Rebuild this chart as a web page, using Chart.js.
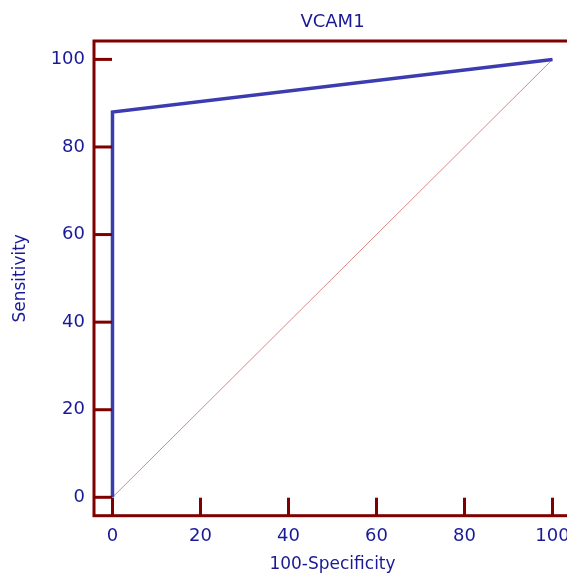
<!DOCTYPE html>
<html><head><meta charset="utf-8">
<script src="https://cdn.jsdelivr.net/npm/chart.js@4/dist/chart.umd.min.js"></script>
<style>html,body{margin:0;padding:0;overflow:hidden;background:#fff}#wrap{width:571px;height:574px}</style>
</head><body><div id="wrap"><canvas id="c" width="571" height="574"></canvas></div>
<script>
const chartTitle = "VCAM1";
const xTitle = "100-Specificity";
const yTitle = "Sensitivity";
const rocX = [0, 0, 100];
const rocY = [0, 88, 100];
const diagX = [0, 100];
const diagY = [0, 100];
const tickValues = [0, 20, 40, 60, 80, 100];

const MAROON = "#800000";
const LABEL = "#1a1a96";
const FONT = "'DejaVu Sans', Verdana, sans-serif";

const framePlugin = {
  id: "frame",
  afterDatasetsDraw(chart) {
    const {ctx, chartArea: a, scales} = chart;
    ctx.save();
    ctx.strokeStyle = MAROON;
    ctx.lineWidth = 3;
    ctx.lineCap = "butt";
    ctx.strokeRect(a.left, a.top, a.right - a.left, a.bottom - a.top);
    const tl = 18;
    tickValues.forEach(v => {
      const y = scales.y.getPixelForValue(v);
      ctx.beginPath(); ctx.moveTo(a.left, y); ctx.lineTo(a.left + tl, y); ctx.stroke();
      const x = scales.x.getPixelForValue(v);
      ctx.beginPath(); ctx.moveTo(x, a.bottom); ctx.lineTo(x, a.bottom - tl); ctx.stroke();
    });
    ctx.fillStyle = LABEL;
    ctx.font = "18px " + FONT;
    ctx.textAlign = "center";
    ctx.textBaseline = "middle";
    ctx.fillText(chartTitle, (a.left + a.right) / 2, 22);
    ctx.restore();
  }
};

new Chart(document.getElementById("c"), {
  type: "scatter",
  data: {
    datasets: [
      {
        data: diagX.map((x, i) => ({x, y: diagY[i]})),
        showLine: true, borderColor: "#d68a8a", borderWidth: 1,
        pointRadius: 0, order: 2
      },
      {
        data: rocX.map((x, i) => ({x, y: rocY[i]})),
        showLine: true, borderColor: "#3c3cb0", borderWidth: 3.5,
        pointRadius: 0, order: 1
      }
    ]
  },
  options: {
    responsive: false,
    animation: false,
    layout: {padding: {top: 41, left: 0, right: 0, bottom: 0}},
    plugins: {legend: {display: false}, tooltip: {enabled: false}, title: {display: false}},
    scales: {
      x: {
        type: "linear", min: -4.2, max: 104.2,
        afterBuildTicks: s => { s.ticks = tickValues.map(v => ({value: v})); },
        afterFit: s => { s.height = 58.3; s.paddingLeft = 0; s.paddingRight = 0; },
        grid: {display: false, drawTicks: false},
        border: {display: false},
        ticks: {color: LABEL, font: {family: FONT, size: 18}, padding: 10, maxRotation: 0},
        title: {display: true, text: xTitle, color: LABEL, font: {family: FONT, size: 17, lineHeight: 1.1}, padding: {top: 0, bottom: 0}}
      },
      y: {
        type: "linear", min: -4.2, max: 104.2,
        afterBuildTicks: s => { s.ticks = tickValues.map(v => ({value: v})); },
        afterFit: s => { s.width = 94; s.paddingTop = 0; s.paddingBottom = 0; },
        grid: {display: false, drawTicks: false},
        border: {display: false},
        ticks: {color: LABEL, font: {family: FONT, size: 18}, padding: 9},
        title: {display: true, text: yTitle, color: LABEL, font: {family: FONT, size: 17, lineHeight: 1.2}, padding: {top: 10, bottom: 0}}
      }
    }
  },
  plugins: [framePlugin]
});
</script></body></html>
